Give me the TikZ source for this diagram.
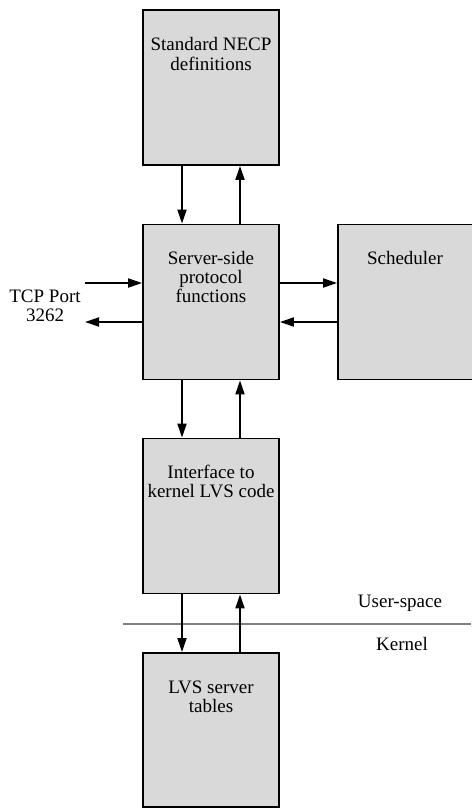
\documentclass[tikz,border=0pt]{standalone}
\usepackage{fontspec}
\setmainfont{Liberation Serif}
\usetikzlibrary{arrows.meta}
\definecolor{boxfill}{HTML}{D9D9D9}
\definecolor{rulegray}{HTML}{808080}
\tikzset{
  block/.style={draw=black, line width=1.8pt, fill=boxfill, rectangle,
    minimum width=136pt, minimum height=155pt, inner sep=0pt},
  blocktext/.style={anchor=north, inner sep=0pt, align=center,
    font=\fontsize{19}{19}\selectfont},
  plain/.style={inner sep=0pt, font=\fontsize{19}{19}\selectfont},
  flow/.style={line width=1.8pt, -{Triangle[length=14pt,width=9pt]}},
}
\begin{document}
\begin{tikzpicture}[x=1pt, y=-1pt]
\useasboundingbox (0,0) rectangle (471,808);

% main column of blocks
\node[block] (defs)   at (211,87.5) {};
\node[block] (server) at (211,302)  {};
\node[block, minimum width=152pt] (sched) at (414,302) {};
\node[block] (iface)  at (211,516)  {};
\node[block, minimum height=154pt] (tables) at (211,730) {};

% block captions (first baseline 40pt below the top edge)
\node[blocktext] (defsT)   at (211,36.7)  {\strut Standard NECP\\definitions};
\node[blocktext] (serverT) at (211,250.7) {\strut Server-side\\protocol\\functions};
\node[blocktext] (schedT)  at (405,250.7) {\strut Scheduler};
\node[blocktext] (ifaceT)  at (211,464.7) {\strut Interface to\\kernel LVS code};
\node[blocktext] (tablesT) at (211,679.7) {\strut LVS server\\tables};

% external port
\coordinate (tcpin)  at (85,283);
\coordinate (tcpout) at (85,322);
\node[plain, anchor=base] (tcp1) at (45,302) {TCP Port};
\node[plain, anchor=base] (tcp2) at (45,321) {3262};

% user-space / kernel boundary
\coordinate (sepL) at (123,624);
\coordinate (sepR) at (471,624);
\draw[rulegray, line width=1.5pt] (sepL) -- (sepR);
\node[plain, anchor=base] (uspace) at (400,607) {User-space};
\node[plain, anchor=base] (kernel) at (402,650) {Kernel};

% vertical data flow
\draw[flow] ([xshift=-29pt]defs.south)   -- ([xshift=-29pt]server.north);
\draw[flow] ([xshift=29pt]server.north)  -- ([xshift=29pt]defs.south);
\draw[flow] ([xshift=-29pt]server.south) -- ([xshift=-29pt]iface.north);
\draw[flow] ([xshift=29pt]iface.north)   -- ([xshift=29pt]server.south);
\draw[flow] ([xshift=-29pt]iface.south)  -- ([xshift=-29pt]tables.north);
\draw[flow] ([xshift=29pt]tables.north)  -- ([xshift=29pt]iface.south);

% horizontal data flow
\draw[flow] (tcpin) -- (tcpin -| server.west);
\draw[flow] (tcpout -| server.west) -- (tcpout);
\draw[flow] (tcpin -| server.east) -- (tcpin -| sched.west);
\draw[flow] (tcpout -| sched.west) -- (tcpout -| server.east);
\end{tikzpicture}
\end{document}
